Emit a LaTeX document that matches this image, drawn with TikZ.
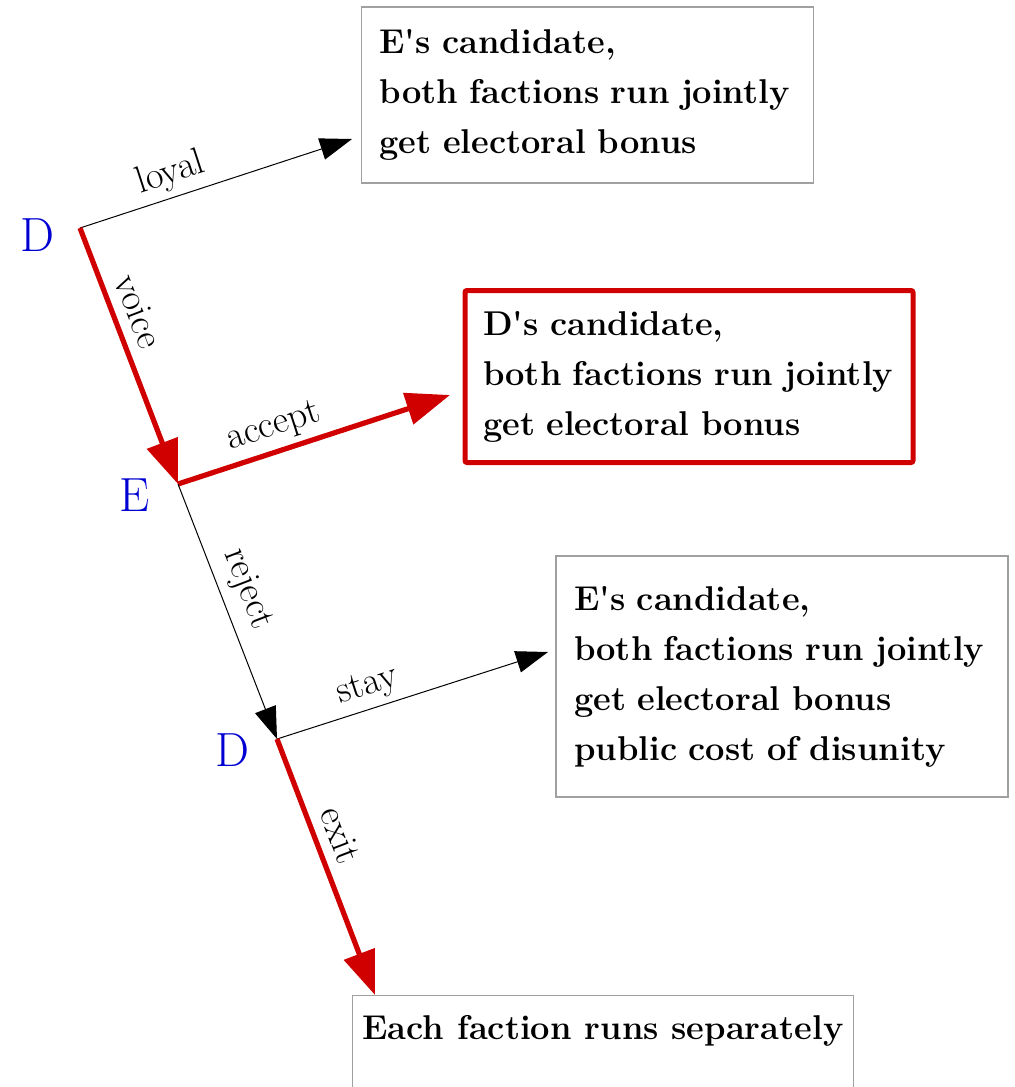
\documentclass[tikz,border=0pt]{standalone}
\usetikzlibrary{arrows.meta}
\definecolor{pathred}{RGB}{208,0,0}
\definecolor{playerblue}{RGB}{0,0,210}
\definecolor{boxgray}{RGB}{160,160,160}
\tikzset{
  outcome/.style={draw=boxgray, line width=0.6pt, inner xsep=9pt, align=left,
    font=\fontsize{17.2}{25}\selectfont\bfseries},
  chosen/.style={outcome, draw=pathred, line width=2.5pt, rounded corners=1pt},
  move/.style={line width=0.5pt, -{Triangle[length=16pt,width=11pt]}},
  eqpath/.style={draw=pathred, line width=2.6pt, -{Triangle[length=22pt,width=16pt]}},
  player/.style={text=playerblue, font=\fontsize{24}{24}\selectfont},
  branch/.style={anchor=south, inner sep=3pt, text=black, font=\fontsize{19}{19}\selectfont},
  uplabel/.style={branch, rotate=18},
  downlabel/.style={branch, inner sep=5pt, rotate=-69}
}
\begin{document}
\begin{tikzpicture}[x=0.5pt,y=0.5pt,yscale=-1,xscale=1]
\useasboundingbox (0,0) rectangle (1014,1087);

% Decision points
\coordinate (d1) at (80,228);
\coordinate (e) at (178,484);
\coordinate (d2) at (277,739);
\coordinate (loyaltip) at (352,139);
\coordinate (accepttip) at (450,395);
\coordinate (staytip) at (548,652);
\coordinate (exittip) at (375,995);

% Text Node
\node[player] (dlabA) at (37,235) {D};
\node[player] (elab) at (135,495) {E};
\node[player] (dlabB) at (232,750) {D};

% Outcome boxes
\node[outcome, text width=208pt, minimum height=88pt] (outA) at (587.5,95)
  {E\textquotesingle s candidate,\\both factions run jointly\\get electoral bonus};
\node[chosen, text width=206pt, minimum height=86pt] (outB) at (689,376.5)
  {D\textquotesingle s candidate,\\both factions run jointly\\get electoral bonus};
\node[outcome, text width=208pt, minimum height=120.5pt] (outC) at (782,676.5)
  {E\textquotesingle s candidate,\\both factions run jointly\\get electoral bonus\\public cost of disunity};
\node[outcome, minimum width=250pt, inner xsep=5pt, inner ysep=10pt, anchor=north] (outD) at (603,995)
  {Each faction runs separately\\ \mbox{}};

% Straight Lines
\draw[move] (d1) -- node[uplabel, pos=0.36] {loyal} (loyaltip);
\draw[eqpath] (d1) -- node[downlabel, pos=0.36] {voice} (e);
\draw[eqpath] (e) -- node[uplabel, pos=0.38] {accept} (accepttip);
\draw[move] (e) -- node[downlabel, pos=0.45] {reject} (d2);
\draw[move] (d2) -- node[uplabel, pos=0.36] {stay} (staytip);
\draw[eqpath] (d2) -- node[downlabel, pos=0.41] {exit} (exittip);

\end{tikzpicture}
\end{document}
